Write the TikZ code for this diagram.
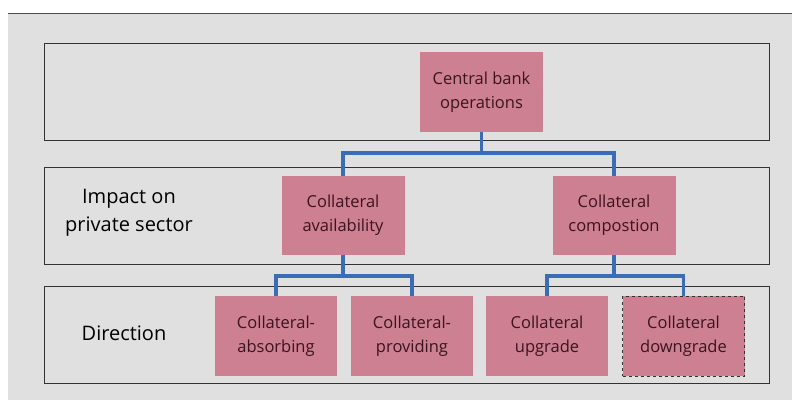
\documentclass[tikz,border=0pt]{standalone}
\usepackage{fontspec}
\setmainfont{Open Sans}
\definecolor{boxpink}{RGB}{204,128,145}
\definecolor{panelgray}{RGB}{224,224,224}
\definecolor{linkblue}{RGB}{58,109,181}
\definecolor{boxtext}{RGB}{60,20,30}
\tikzset{
  band/.style={draw=black!80, line width=0.8pt, minimum width=725pt, minimum height=97pt, inner sep=0pt},
  item/.style={fill=boxpink, text=boxtext, minimum width=122pt, minimum height=80pt, align=center, inner sep=0pt, font=\fontsize{16.5}{24}\selectfont},
  tag/.style={align=center, font=\fontsize{20}{28}\selectfont},
  link/.style={draw=linkblue, line width=3.8pt}
}
\begin{document}
\begin{tikzpicture}[x=1pt, y=-1pt]
  \useasboundingbox (0,0) rectangle (792,400);
  \fill[panelgray] (8,13) rectangle (792,400);
  \draw[black!70, line width=0.9pt] (8,13) -- (792,13);

  % levels
  \node[band] (top) at (406.5,91.5) {};
  \node[band] (mid) at (406.5,216) {};
  \node[band] (low) at (406.5,335) {};

  \node[tag] (impact) at (129,213) {Impact on\\private sector};
  \node[tag] (dir) at (124,333) {Direction};

  \node[item, minimum width=123pt] (cb) at (481.5,92) {Central bank\\operations};
  \node[item, minimum width=123pt, minimum height=79pt] (avail) at (343,215.5) {Collateral\\availability};
  \node[item, minimum width=123pt, minimum height=79pt] (comp) at (614,215.5) {Collateral\\compostion};

  \node[item] (absorb) at (276,336) {Collateral-\\absorbing};
  \node[item] (provide) at (412,336) {Collateral-\\providing};
  \node[item] (upgrade) at (547,336) {Collateral\\upgrade};
  \node[item, draw=black!80, dashed, line width=0.7pt] (downgrade) at (683.5,336) {Collateral\\downgrade};

  \draw[link] (cb.south) -- ++(0,21) -| (avail.north);
  \draw[link] (cb.south) -- ++(0,21) -| (comp.north);
  \draw[link] (avail.south) -- ++(0,21) -| (absorb.north);
  \draw[link] (avail.south) -- ++(0,21) -| (provide.north);
  \draw[link] (comp.south) -- ++(0,21) -| (upgrade.north);
  \draw[link] (comp.south) -- ++(0,21) -| (downgrade.north);
\end{tikzpicture}
\end{document}
